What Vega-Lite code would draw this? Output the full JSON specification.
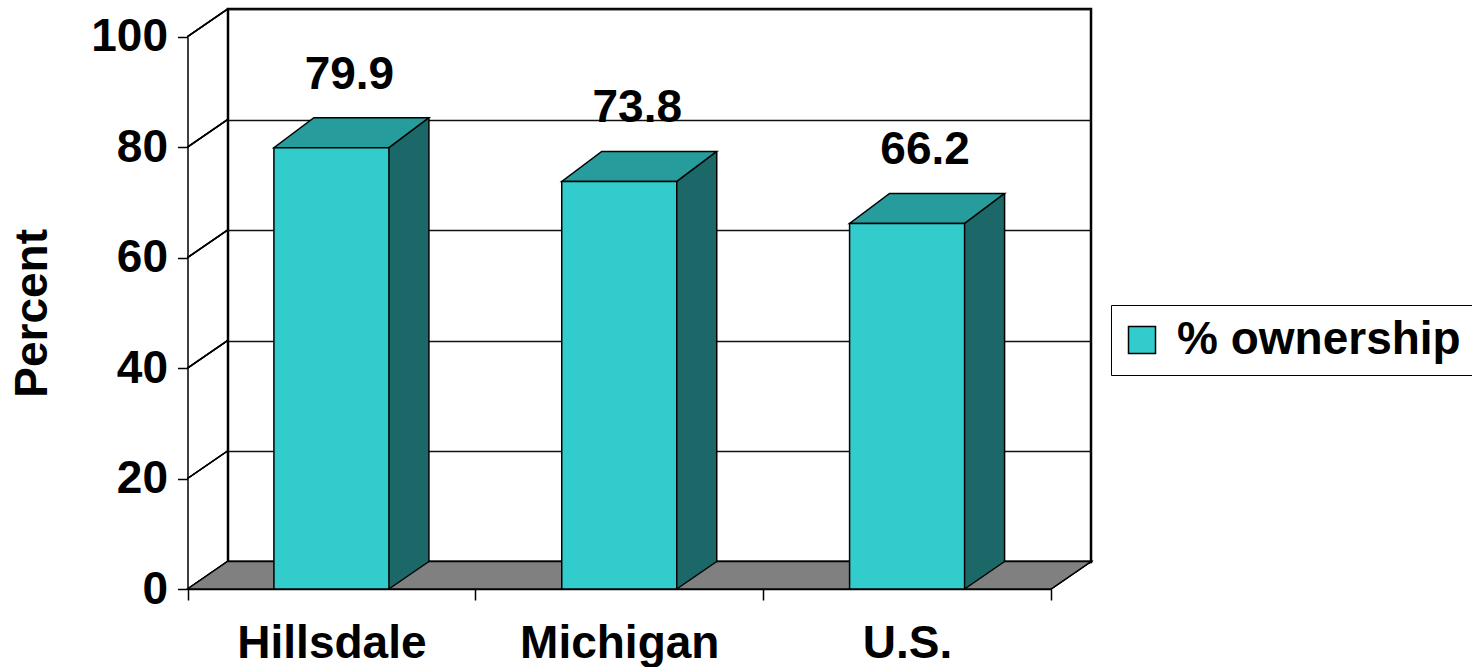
{
  "$schema": "https://vega.github.io/schema/vega-lite/v6.json",
  "autosize": {"type": "none"},
  "padding": {"left": 228, "top": 9, "right": 381, "bottom": 105},
  "width": 863,
  "height": 553,
  "background": "white",
  "config": {
    "font": "Liberation Sans",
    "view": {"stroke": "black", "strokeWidth": 2.5, "fill": "white"},
    "axis": {"labelFont": "Liberation Sans", "labelFontWeight": "bold", "labelFontSize": 46, "labelColor": "black", "labelLimit": 0, "titleFont": "Liberation Sans", "titleFontWeight": "bold", "titleFontSize": 46, "titleColor": "black", "domainColor": "black", "domainWidth": 1.5, "tickColor": "black", "tickWidth": 1.5}
  },
  "data": {"values": [
    {"region": "Hillsdale", "value": 79.9},
    {"region": "Michigan", "value": 73.8},
    {"region": "U.S.", "value": 66.2}
  ]},
  "layer": [
    {
      "mark": {"type": "rule", "opacity": 0},
      "encoding": {
        "y": {"field": "value", "type": "quantitative",
          "scale": {"domain": [0, 100], "range": [553, 0], "nice": false, "zero": true},
          "axis": {"orient": "left", "grid": true, "gridColor": "#111", "gridWidth": 1.5, "domain": false, "ticks": false, "labels": false, "title": null, "values": [0, 20, 40, 60, 80, 100]}}
      }
    },
    {
      "encoding": {
        "x": {"field": "region", "type": "nominal", "sort": null,
          "scale": {"domain": ["Hillsdale", "Michigan", "U.S."], "range": [-40.5, 823], "paddingInner": 0, "paddingOuter": 0},
          "axis": {"orient": "bottom", "offset": 27, "title": null, "labelAngle": 0, "tickBand": "extent", "tickSize": 11, "labelPadding": 21, "labelLimit": 0, "domain": true}},
        "y": {"field": "value", "type": "quantitative",
          "scale": {"domain": [0, 100], "range": [580, 27.7], "nice": false, "zero": true},
          "axis": {"orient": "left", "offset": 40.5, "title": "Percent", "grid": false, "values": [0, 20, 40, 60, 80, 100], "tickSize": 10, "labelPadding": 10, "titlePadding": 34}}
      },
      "layer": [
        {
          "mark": {"type": "point", "shape": "M0,-110.5L40,-138M0,-220.9L40,-248.4M0,-331.4L40,-358.9M0,-441.8L40,-469.3M0,-552.3L40,-579.8", "size": 4, "filled": false, "stroke": "black", "strokeWidth": 1.5, "opacity": 1},
          "encoding": {"x": {"datum": "Hillsdale", "bandPosition": 0}, "y": {"datum": 0}}
        },
        {
          "mark": {"type": "point", "shape": "M0,0L40,-27.5L903.5,-27.5L863.5,0Z", "size": 4, "filled": true, "fill": "#808080", "stroke": "black", "strokeWidth": 1.5, "opacity": 1},
          "encoding": {"x": {"datum": "Hillsdale", "bandPosition": 0}, "y": {"datum": 0}}
        },
        {
          "mark": {"type": "bar", "width": 40, "xOffset": 77.5, "yOffset": -2, "y2Offset": -26.5, "fill": "#1C6868", "stroke": null},
          "encoding": {"y2": {"datum": 0}}
        },
        {
          "mark": {"type": "point", "shape": "M57.5,0L57.5,-27.5L97.5,-27.5Z", "size": 4, "filled": true, "fill": "#1C6868", "strokeWidth": 0, "opacity": 1},
          "encoding": {"y": {"datum": 0}}
        },
        {
          "mark": {"type": "point", "shape": "M57.5,0L97.5,-30L97.5,0Z", "size": 4, "filled": true, "fill": "#1C6868", "strokeWidth": 0, "opacity": 1}
        },
        {
          "mark": {"type": "rule", "xOffset": 97.5, "yOffset": -30, "y2Offset": -27.5, "stroke": "black", "strokeWidth": 1.5},
          "encoding": {"y2": {"datum": 0}}
        },
        {
          "mark": {"type": "point", "shape": "M57.5,0L97.5,-27.5", "size": 4, "filled": false, "stroke": "black", "strokeWidth": 1.5, "opacity": 1},
          "encoding": {"y": {"datum": 0}}
        },
        {
          "mark": {"type": "point", "shape": "M-57.5,0L57.5,0L97.5,-30L-17.5,-30Z", "size": 4, "filled": true, "fill": "#279C9C", "stroke": "black", "strokeWidth": 1.5, "opacity": 1}
        },
        {
          "mark": {"type": "bar", "width": 115, "stroke": "black", "strokeWidth": 1.5},
          "encoding": {
            "y2": {"datum": 0},
            "fill": {"datum": "% ownership", "type": "nominal", "scale": {"range": ["#33CCCC"]},
              "legend": {"orient": "none", "legendX": 883, "legendY": 296, "title": null, "symbolType": "square", "symbolSize": 729, "symbolOffset": -4, "symbolStrokeColor": "black", "symbolStrokeWidth": 1.5, "labelFont": "Liberation Sans", "labelFontSize": 46, "labelFontWeight": "bold", "labelColor": "black", "labelOffset": 12, "labelLimit": 600, "padding": 12, "strokeColor": "black", "fillColor": "white"}}
          }
        },
        {
          "mark": {"type": "text", "dx": 18, "dy": -59, "baseline": "alphabetic", "align": "center", "font": "Liberation Sans", "fontWeight": "bold", "fontSize": 46, "color": "black"},
          "encoding": {"text": {"field": "value", "type": "quantitative", "format": ".1f"}}
        }
      ]
    }
  ],
  "resolve": {"scale": {"x": "independent", "y": "independent"}, "axis": {"x": "independent", "y": "independent"}}
}
